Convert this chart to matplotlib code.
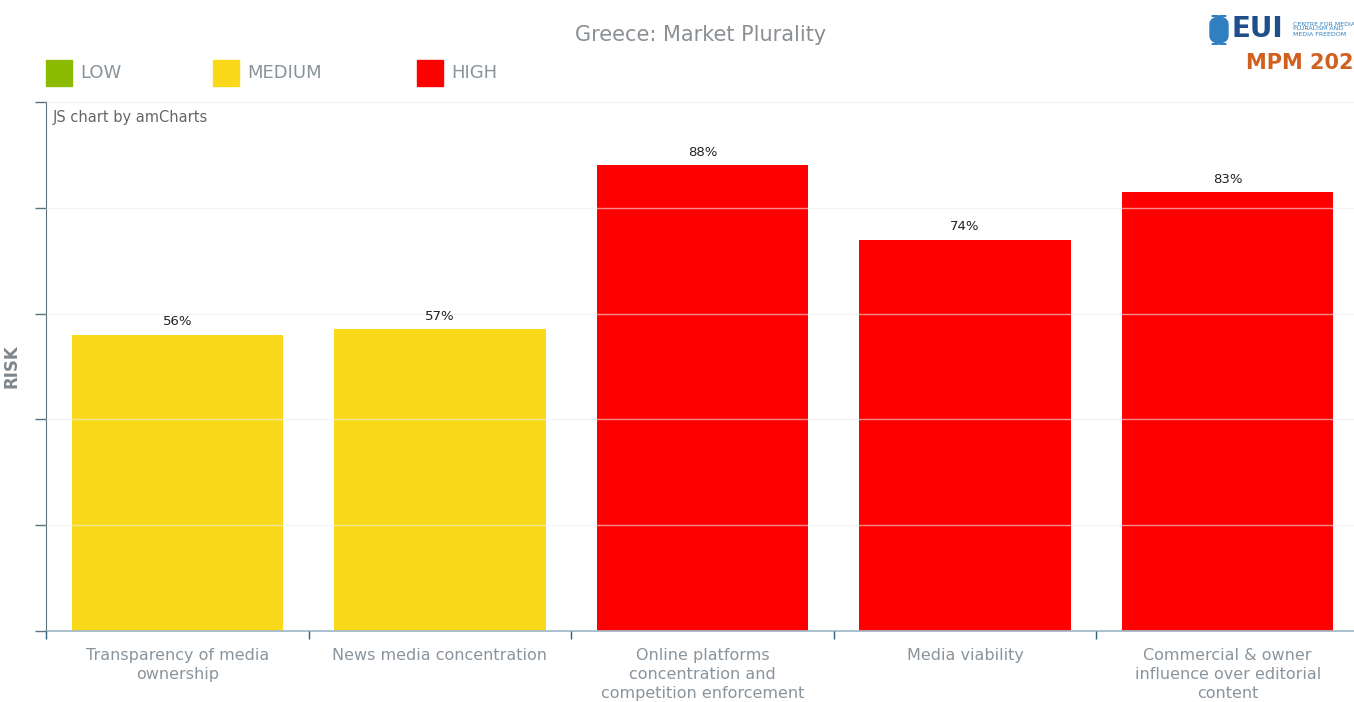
import matplotlib.pyplot as plt
from matplotlib.patches import Rectangle, FancyBboxPatch

categories = ["Transparency of media\nownership", "News media concentration",
              "Online platforms\nconcentration and\ncompetition enforcement",
              "Media viability",
              "Commercial & owner\ninfluence over editorial\ncontent"]
values = [56, 57, 88, 74, 83]
levels = ["MEDIUM", "MEDIUM", "HIGH", "HIGH", "HIGH"]
legend_labels = ["LOW", "MEDIUM", "HIGH"]
level_colors = {"LOW": "#8cba00", "MEDIUM": "#fad91b", "HIGH": "#ff0000"}

W, H = 1354, 702
fig = plt.figure(figsize=(W / 100, H / 100), dpi=100)

# axes spans 46..1359 px horizontally (right part clipped like the source)
ax = fig.add_axes([46 / W, 1 - 631 / H, (1359 - 46) / W, (631 - 102) / H])
x = range(len(categories))
ax.bar(x, values, width=0.805, color=[level_colors[l] for l in levels], zorder=1)
ax.set_xlim(-0.5, len(categories) - 0.5)
ax.set_ylim(0, 100)

for i, v in enumerate(values):
    ax.text(i, v + 1.2, f"{v}%", ha="center", va="bottom", fontsize=9.5, color="#222222")

ax.set_yticks(range(0, 101, 20))
ax.set_yticklabels([])
ax.yaxis.grid(True, color="#eeeeee", linewidth=1, alpha=0.6, zorder=3)
ax.set_axisbelow(False)
ax.set_xticks([i - 0.5 for i in range(len(categories))])
ax.set_xticklabels([])
ax.tick_params(axis="y", length=8, color="#5a7180", width=1)
ax.tick_params(axis="x", length=6, color="#2e5f7f", width=1)
for i, c in enumerate(categories):
    ax.text(i, -3.3, c, ha="center", va="top", fontsize=11.5, color="#8a949c",
            linespacing=1.3)

for s in ["top", "right"]:
    ax.spines[s].set_visible(False)
ax.spines["left"].set_color("#5a7180")
ax.spines["bottom"].set_color("#9ab3c4")
ax.spines["bottom"].set_linewidth(1.2)

ax.set_ylabel("RISK", fontsize=12, fontweight="bold", color="#7d868e")
ax.yaxis.set_label_coords(-26 / 1313, 0.5)

ax.text(0.005, 0.985, "JS chart by amCharts", transform=ax.transAxes, ha="left", va="top",
        fontsize=10.5, color="#666666")

fig.text(701 / W, 1 - 35 / H, "Greece: Market Plurality", ha="center", va="center",
         fontsize=15, color="#8a8f94")

# legend
leg_x = [46, 213, 417]
for px, lab in zip(leg_x, legend_labels):
    fig.patches.append(Rectangle((px / W, 1 - 86 / H), 26 / W, 26 / H,
                                 transform=fig.transFigure, color=level_colors[lab]))
    fig.text((px + 34) / W, 1 - 73 / H, lab, ha="left", va="center", fontsize=13,
             color="#8a9399")

# EUI / MPM logo (clipped at right edge, as in the source)
fig.patches.append(FancyBboxPatch((1210 / W, 1 - 44 / H), 18 / W, 28 / H,
                                  boxstyle="round,pad=0,rounding_size=0.012",
                                  transform=fig.transFigure, color="#2f7fc1"))
fig.text(1231 / W, 1 - 29 / H, "EUI", ha="left", va="center", fontsize=20,
         fontweight="bold", color="#1f4f8a")
fig.text(1293 / W, 1 - 29 / H, "CENTRE FOR MEDIA\nPLURALISM AND\nMEDIA FREEDOM",
         ha="left", va="center", fontsize=4.5, color="#2f7fc1", linespacing=1.0)
fig.text(1246 / W, 1 - 63 / H, "MPM 2023", ha="left", va="center", fontsize=15,
         fontweight="bold", color="#d0601f")

fig.savefig("out.png", dpi=100)
